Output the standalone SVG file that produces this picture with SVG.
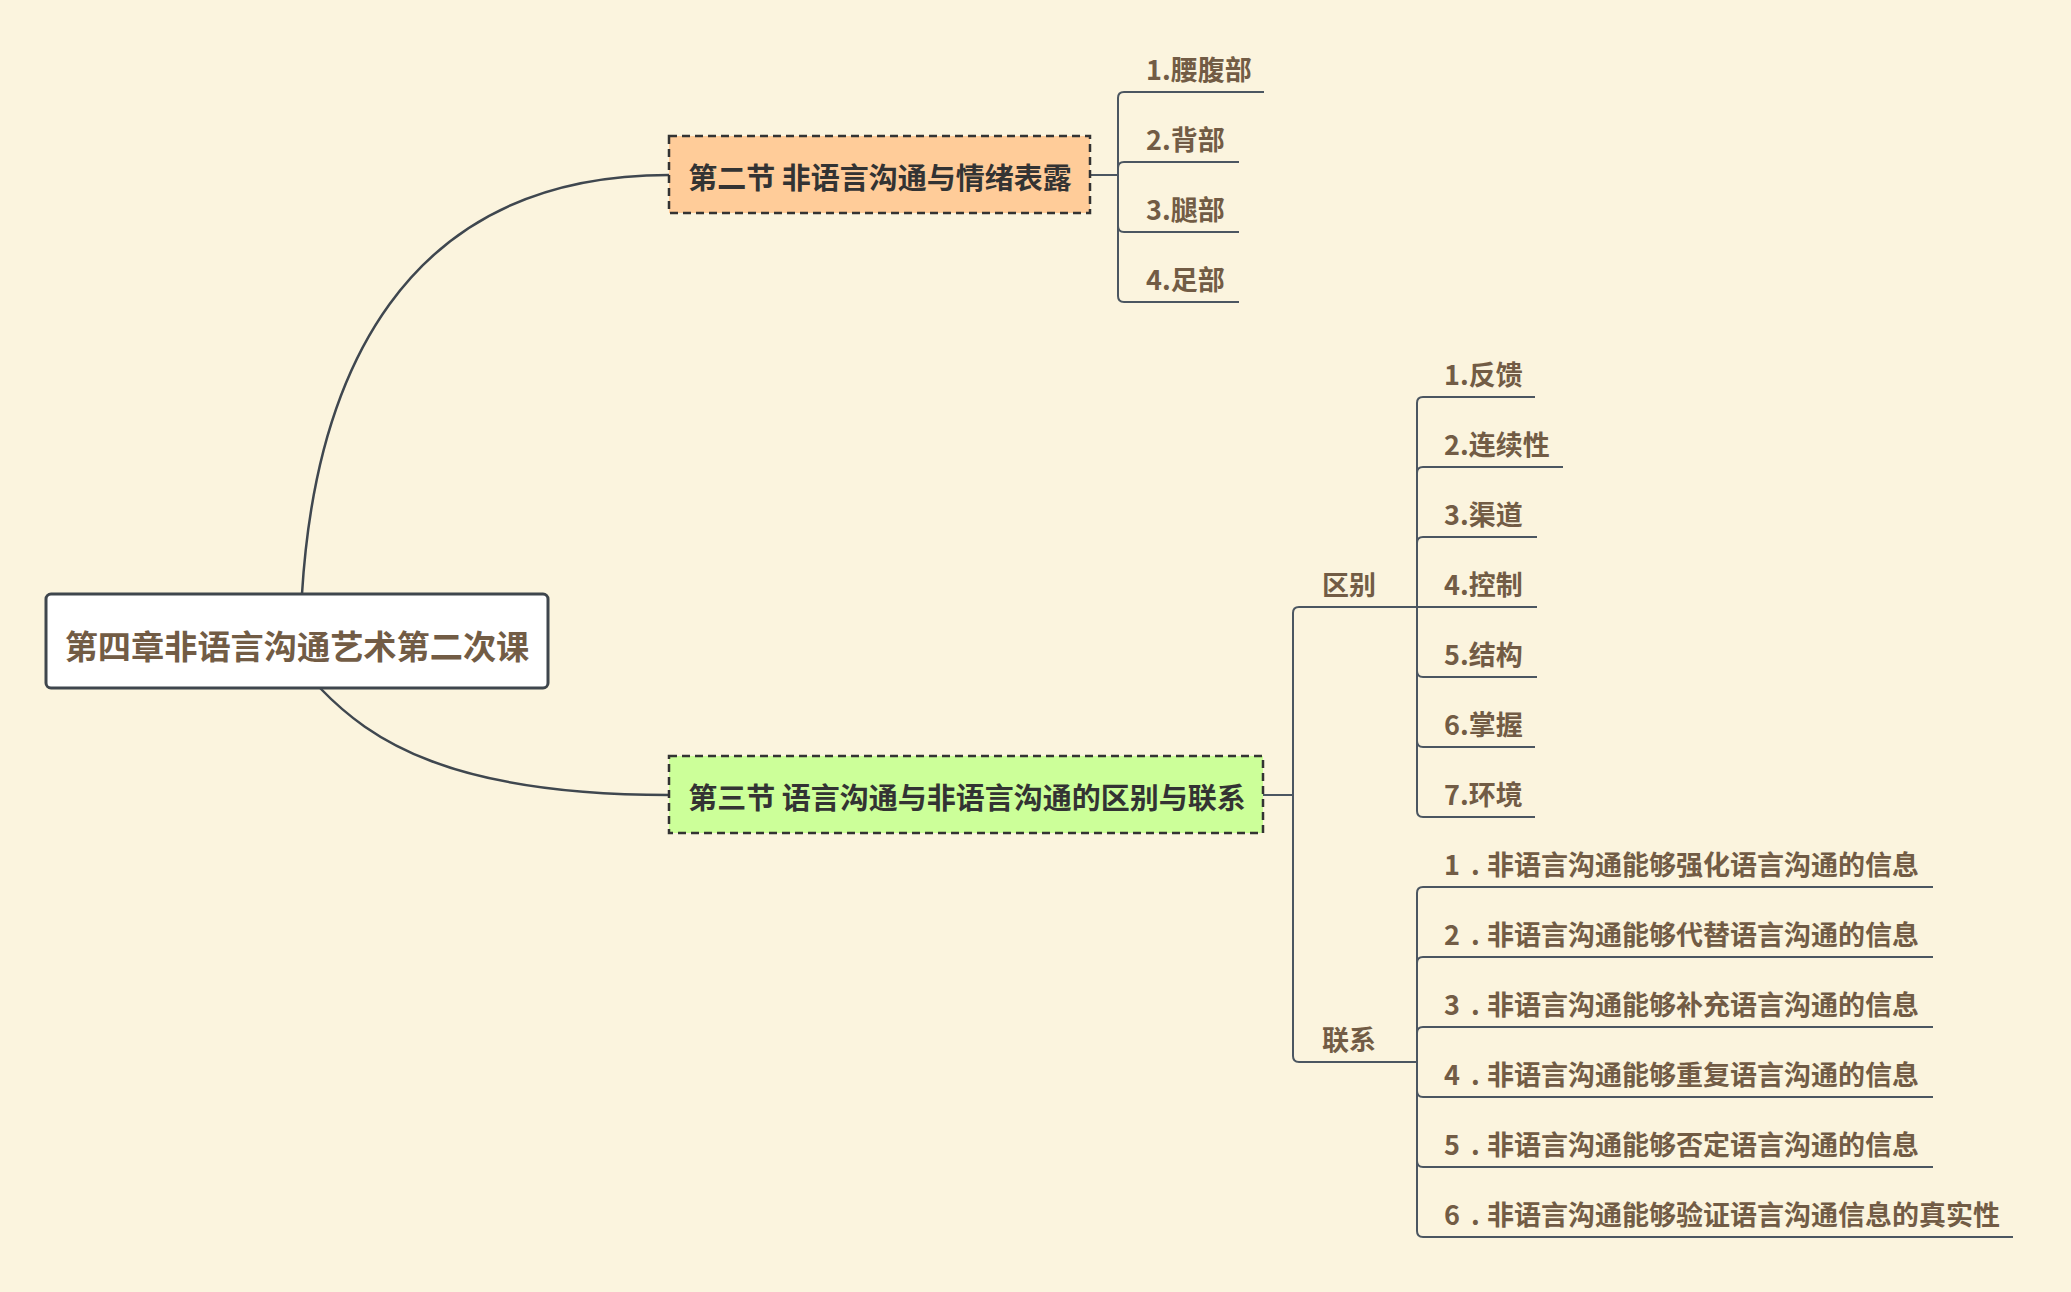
<svg xmlns="http://www.w3.org/2000/svg" width="2071" height="1292" viewBox="0 0 2071 1292">
<defs>
<style>
text { font-family: 'Noto Sans CJK SC', 'Microsoft YaHei', sans-serif; font-weight: bold; }
.bg { fill: #fbf4de; }
.curve { fill: none; stroke: #3f474f; stroke-width: 2.5; }
.branch { fill: none; stroke: #4b5661; stroke-width: 2; }
.root { fill: #ffffff; stroke: #3f464d; stroke-width: 3; }
.sec { stroke: #333333; stroke-width: 2.5; stroke-dasharray: 8 5; }
.sec1 { fill: #ffcc99; }
.sec2 { fill: #ccff99; }
.rootText { font-size: 33.2px; fill: #725c45; text-anchor: middle; dominant-baseline: central; }
.secText { font-size: 29px; fill: #333333; text-anchor: middle; dominant-baseline: central; }
.leaf { font-size: 27px; fill: #725c45; }
</style>
</defs>
<rect class="bg" x="0" y="0" width="2071" height="1292"/>

<g id="connectors">
  <path class="curve" d="M302,594 C315,380 400,175 669,175"/>
  <path class="curve" d="M320,688 C370,740 450,795 669,795"/>

  <path class="branch" d="M1090,175 H1118"/>
  <path class="branch" d="M1118,175 V98 Q1118,92 1124,92 H1264"/>
  <path class="branch" d="M1118,175 V168 Q1118,162 1124,162 H1239"/>
  <path class="branch" d="M1118,175 V226 Q1118,232 1124,232 H1239"/>
  <path class="branch" d="M1118,175 V296 Q1118,302 1124,302 H1239"/>

  <path class="branch" d="M1263,795 H1293"/>
  <path class="branch" d="M1293,795 V613 Q1293,607 1299,607 H1417"/>
  <path class="branch" d="M1293,795 V1056 Q1293,1062 1299,1062 H1417"/>

  <path class="branch" d="M1417,607 V403 Q1417,397 1423,397 H1535"/>
  <path class="branch" d="M1417,607 V473 Q1417,467 1423,467 H1563"/>
  <path class="branch" d="M1417,607 V543 Q1417,537 1423,537 H1537"/>
  <path class="branch" d="M1417,607 H1537"/>
  <path class="branch" d="M1417,607 V671 Q1417,677 1423,677 H1537"/>
  <path class="branch" d="M1417,607 V741 Q1417,747 1423,747 H1535"/>
  <path class="branch" d="M1417,607 V811 Q1417,817 1423,817 H1535"/>

  <path class="branch" d="M1417,1062 V893 Q1417,887 1423,887 H1933"/>
  <path class="branch" d="M1417,1062 V963 Q1417,957 1423,957 H1933"/>
  <path class="branch" d="M1417,1062 V1033 Q1417,1027 1423,1027 H1933"/>
  <path class="branch" d="M1417,1062 V1091 Q1417,1097 1423,1097 H1933"/>
  <path class="branch" d="M1417,1062 V1161 Q1417,1167 1423,1167 H1933"/>
  <path class="branch" d="M1417,1062 V1231 Q1417,1237 1423,1237 H2013"/>
</g>

<g id="root">
  <rect class="root" x="46" y="594" width="502" height="94" rx="5" ry="5"/>
  <text class="rootText" x="297" y="644">第四章非语言沟通艺术第二次课</text>
</g>

<g id="sec2-node">
  <rect class="sec sec1" x="669" y="136" width="421" height="77"/>
  <text class="secText" x="880" y="176">第二节 非语言沟通与情绪表露</text>
</g>

<g id="sec3-node">
  <rect class="sec sec2" x="669" y="756" width="594" height="77"/>
  <text class="secText" x="967" y="796">第三节 语言沟通与非语言沟通的区别与联系</text>
</g>

<g id="s2-1"><text class="leaf" x="1146" y="80">1.腰腹部</text></g>
<g id="s2-2"><text class="leaf" x="1146" y="150">2.背部</text></g>
<g id="s2-3"><text class="leaf" x="1146" y="220">3.腿部</text></g>
<g id="s2-4"><text class="leaf" x="1146" y="290">4.足部</text></g>

<g id="diff"><text class="leaf" x="1322" y="595">区别</text></g>
<g id="link"><text class="leaf" x="1322" y="1050">联系</text></g>

<g id="d1"><text class="leaf" x="1444" y="385">1.反馈</text></g>
<g id="d2"><text class="leaf" x="1444" y="455">2.连续性</text></g>
<g id="d3"><text class="leaf" x="1444" y="525">3.渠道</text></g>
<g id="d4"><text class="leaf" x="1444" y="595">4.控制</text></g>
<g id="d5"><text class="leaf" x="1444" y="665">5.结构</text></g>
<g id="d6"><text class="leaf" x="1444" y="735">6.掌握</text></g>
<g id="d7"><text class="leaf" x="1444" y="805">7.环境</text></g>

<g id="l1"><text class="leaf" x="1444" y="875"><tspan>1</tspan> <tspan x="1471">.</tspan> <tspan x="1487">非语言沟通能够强化语言沟通的信息</tspan></text></g>
<g id="l2"><text class="leaf" x="1444" y="945"><tspan>2</tspan> <tspan x="1471">.</tspan> <tspan x="1487">非语言沟通能够代替语言沟通的信息</tspan></text></g>
<g id="l3"><text class="leaf" x="1444" y="1015"><tspan>3</tspan> <tspan x="1471">.</tspan> <tspan x="1487">非语言沟通能够补充语言沟通的信息</tspan></text></g>
<g id="l4"><text class="leaf" x="1444" y="1085"><tspan>4</tspan> <tspan x="1471">.</tspan> <tspan x="1487">非语言沟通能够重复语言沟通的信息</tspan></text></g>
<g id="l5"><text class="leaf" x="1444" y="1155"><tspan>5</tspan> <tspan x="1471">.</tspan> <tspan x="1487">非语言沟通能够否定语言沟通的信息</tspan></text></g>
<g id="l6"><text class="leaf" x="1444" y="1225"><tspan>6</tspan> <tspan x="1471">.</tspan> <tspan x="1487">非语言沟通能够验证语言沟通信息的真实性</tspan></text></g>
</svg>
